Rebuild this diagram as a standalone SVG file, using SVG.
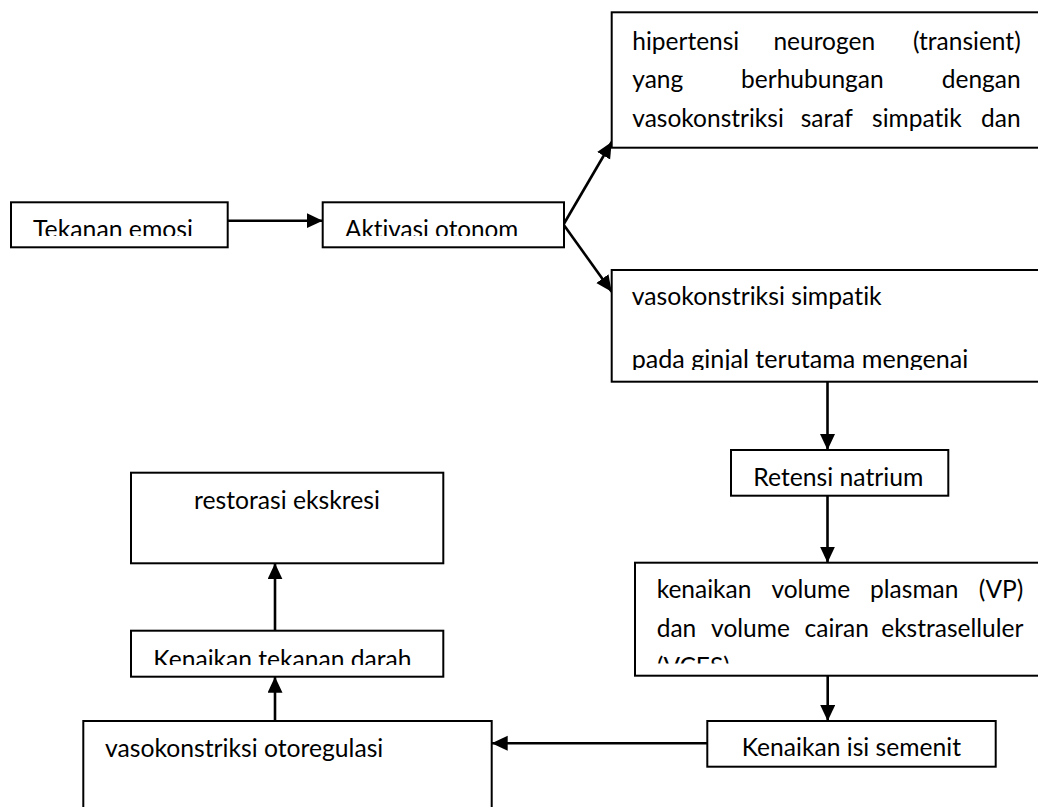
<svg xmlns="http://www.w3.org/2000/svg" width="1038" height="807" viewBox="0 0 1038 807">
  <style>
    .box { fill: #ffffff; stroke: #000000; stroke-width: 2; }
    .lbl { font-family: Lato, "Liberation Sans", sans-serif; font-size: 24.5px; fill: #000000; font-variant-ligatures: none; font-feature-settings: "liga" 0, "clig" 0; }
    .end { text-anchor: end; }
    .conn { fill: none; stroke: #000000; stroke-width: 2.6; }
  </style>
  <defs>
    <marker id="arrow" markerUnits="userSpaceOnUse" markerWidth="17" markerHeight="16" refX="16" refY="7.5" orient="auto">
      <path d="M0,0 L16,7.5 L0,15 Z" fill="#000000"/>
    </marker>
    <!-- inner text areas; lines falling past them are cut off -->
    <clipPath id="clip-emosi"><rect x="11" y="202" width="217" height="34"/></clipPath>
    <clipPath id="clip-otonom"><rect x="323" y="202" width="241" height="34"/></clipPath>
    <clipPath id="clip-simpatik"><rect x="612" y="270" width="426" height="100"/></clipPath>
    <clipPath id="clip-volume"><rect x="635" y="563" width="403" height="100.5"/></clipPath>
    <clipPath id="clip-darah"><rect x="131" y="631" width="312" height="34"/></clipPath>
  </defs>

  <rect width="1038" height="807" fill="#ffffff"/>

  <!-- connectors -->
  <g id="connectors">
    <line class="conn" x1="227.7" y1="220.7" x2="322.7" y2="220.7" marker-end="url(#arrow)"/>
    <line class="conn" x1="563.5" y1="224.5" x2="611.7" y2="142" marker-end="url(#arrow)"/>
    <line class="conn" x1="563.5" y1="224.5" x2="611.7" y2="291.7" marker-end="url(#arrow)"/>
    <line class="conn" x1="827.5" y1="381.7" x2="827.5" y2="450" marker-end="url(#arrow)"/>
    <line class="conn" x1="827.5" y1="495.7" x2="827.5" y2="562.7" marker-end="url(#arrow)"/>
    <line class="conn" x1="827.7" y1="675.7" x2="827.7" y2="721" marker-end="url(#arrow)"/>
    <line class="conn" x1="707.3" y1="743.3" x2="491.7" y2="743.3" marker-end="url(#arrow)"/>
    <line class="conn" x1="275" y1="721.7" x2="275" y2="676.7" marker-end="url(#arrow)"/>
    <line class="conn" x1="275" y1="630.7" x2="275" y2="563.3" marker-end="url(#arrow)"/>
  </g>

  <g id="node-tekanan-emosi">
    <rect class="box" x="11" y="202.3" width="216.7" height="45"/>
    <g clip-path="url(#clip-emosi)">
      <text class="lbl" x="33" y="238.4" textLength="160" lengthAdjust="spacingAndGlyphs">Tekanan emosi</text>
    </g>
  </g>

  <g id="node-aktivasi-otonom">
    <rect class="box" x="322.7" y="202.3" width="241.3" height="45"/>
    <g clip-path="url(#clip-otonom)">
      <text class="lbl" x="345" y="238.4" textLength="173.3" lengthAdjust="spacingAndGlyphs">Aktivasi otonom</text>
    </g>
  </g>

  <g id="node-hipertensi-neurogen">
    <rect class="box" x="611.7" y="12.3" width="440" height="135.4"/>
    <text class="lbl" x="632.3" y="50">hipertensi</text>
    <text class="lbl" x="773.4" y="50">neurogen</text>
    <text class="lbl end" x="1020.7" y="50">(transient)</text>
    <text class="lbl" x="632.3" y="88.4">yang</text>
    <text class="lbl" x="741.1" y="88.4">berhubungan</text>
    <text class="lbl end" x="1020.7" y="88.4">dengan</text>
    <text class="lbl" x="632.3" y="126.8">vasokonstriksi</text>
    <text class="lbl" x="800.7" y="126.8">saraf</text>
    <text class="lbl" x="872.1" y="126.8">simpatik</text>
    <text class="lbl end" x="1020.7" y="126.8">dan</text>
  </g>

  <g id="node-vasokonstriksi-simpatik">
    <rect class="box" x="611.7" y="270" width="440" height="111.7"/>
    <g clip-path="url(#clip-simpatik)">
      <text class="lbl" x="631.7" y="305" textLength="250" lengthAdjust="spacingAndGlyphs">vasokonstriksi simpatik</text>
      <text class="lbl" x="631.7" y="368" textLength="336.7" lengthAdjust="spacingAndGlyphs">pada ginjal terutama mengenai</text>
    </g>
  </g>

  <g id="node-retensi-natrium">
    <rect class="box" x="731" y="450" width="217.3" height="45.7"/>
    <text class="lbl" x="753.3" y="486" textLength="170" lengthAdjust="spacingAndGlyphs">Retensi natrium</text>
  </g>

  <g id="node-kenaikan-volume">
    <rect class="box" x="635" y="562.7" width="420" height="113"/>
    <g clip-path="url(#clip-volume)">
      <text class="lbl" x="656.7" y="598.3">kenaikan</text>
      <text class="lbl" x="771.4" y="598.3">volume</text>
      <text class="lbl" x="870.1" y="598.3">plasman</text>
      <text class="lbl end" x="1023.3" y="598.3">(VP)</text>
      <text class="lbl" x="656.7" y="636.7">dan</text>
      <text class="lbl" x="711.1" y="636.7">volume</text>
      <text class="lbl" x="804.5" y="636.7">cairan</text>
      <text class="lbl end" x="1023.3" y="636.7">ekstraselluler</text>
      <text class="lbl" x="656.7" y="675.1">(VCES)</text>
    </g>
  </g>

  <g id="node-kenaikan-isi-semenit">
    <rect class="box" x="707.3" y="721" width="288.4" height="45.7"/>
    <text class="lbl" x="741.7" y="756" textLength="219.3" lengthAdjust="spacingAndGlyphs">Kenaikan isi semenit</text>
  </g>

  <g id="node-vasokonstriksi-otoregulasi">
    <rect class="box" x="83.3" y="721" width="408.4" height="100"/>
    <text class="lbl" x="105" y="756.7" textLength="278.3" lengthAdjust="spacingAndGlyphs">vasokonstriksi otoregulasi</text>
  </g>

  <g id="node-kenaikan-tekanan-darah">
    <rect class="box" x="131" y="630.7" width="312.3" height="46"/>
    <g clip-path="url(#clip-darah)">
      <text class="lbl" x="153.3" y="668.4" textLength="258.3" lengthAdjust="spacingAndGlyphs">Kenaikan tekanan darah</text>
    </g>
  </g>

  <g id="node-restorasi-ekskresi">
    <rect class="box" x="131" y="472.7" width="312.3" height="90.6"/>
    <text class="lbl" x="194" y="509" textLength="186" lengthAdjust="spacingAndGlyphs">restorasi ekskresi</text>
  </g>
</svg>
